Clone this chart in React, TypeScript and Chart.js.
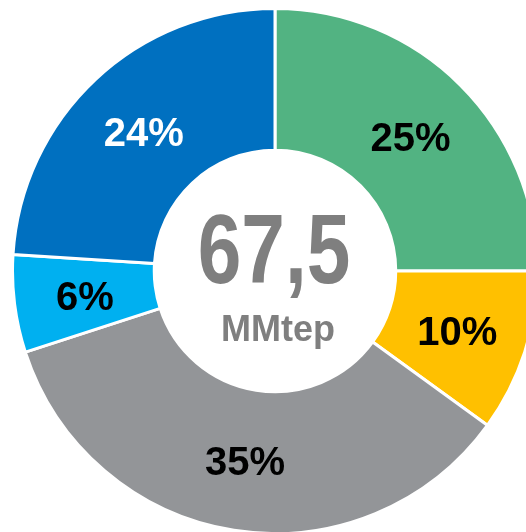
import React, { useEffect, useRef } from 'react';
import { Chart, registerables } from 'chart.js';

Chart.register(...registerables);

const categories = ['Segmento 1', 'Segmento 2', 'Segmento 3', 'Segmento 4', 'Segmento 5'];
const values = [25, 10, 35, 6, 24];
const valueLabels = ['25%', '10%', '35%', '6%', '24%'];
const colors = ['#52B382', '#FFC000', '#939598', '#00B0F0', '#0070C0'];
const labelColors = ['#000000', '#000000', '#000000', '#000000', '#FFFFFF'];
const centerValue = '67,5';
const centerUnit = 'MMtep';

const labelPlugin = {
  id: 'sliceLabels',
  afterDatasetsDraw(chart: any) {
    const ctx = chart.ctx;
    const meta = chart.getDatasetMeta(0);
    ctx.save();
    ctx.textAlign = 'center';
    ctx.textBaseline = 'middle';
    ctx.font = 'bold 40px "Liberation Sans", Arial, sans-serif';
    meta.data.forEach((arc: any, i: number) => {
      const p = arc.tooltipPosition();
      ctx.fillStyle = labelColors[i];
      ctx.fillText(valueLabels[i], p.x, p.y + 4);
    });
    const first = meta.data[0];
    if (first) {
      const cx = first.x;
      const cy = first.y;
      ctx.fillStyle = '#7F7F7F';
      ctx.save();
      ctx.translate(cx - 1, cy - 15);
      ctx.scale(0.8, 1);
      ctx.font = 'bold 98px "Liberation Sans", Arial, sans-serif';
      ctx.fillText(centerValue, 0, 0);
      ctx.restore();
      ctx.font = 'bold 36px "Liberation Sans", Arial, sans-serif';
      ctx.fillText(centerUnit, cx + 3, cy + 60);
    }
    ctx.restore();
  },
};

export default function App() {
  const ref = useRef<HTMLCanvasElement | null>(null);
  useEffect(() => {
    if (!ref.current) return;
    const chart = new Chart(ref.current, {
      type: 'doughnut',
      data: {
        labels: categories,
        datasets: [
          {
            data: values,
            backgroundColor: colors,
            borderColor: '#FFFFFF',
            borderWidth: 3,
            hoverOffset: 0,
          },
        ],
      },
      options: {
        responsive: false,
        animation: false,
        cutout: '46%',
        rotation: 0,
        layout: { padding: 0 },
        plugins: {
          legend: { display: false },
          tooltip: { enabled: false },
        },
      },
      plugins: [labelPlugin],
    });
    return () => chart.destroy();
  }, []);
  return (
    <div style={{ position: 'fixed', left: 0, top: 0, width: 526, height: 532, overflow: 'hidden', background: '#fff' }}>
      <canvas
        ref={ref}
        width={528}
        height={528}
        style={{ position: 'absolute', left: 11, top: 7, width: 528, height: 528 }}
      />
    </div>
  );
}
